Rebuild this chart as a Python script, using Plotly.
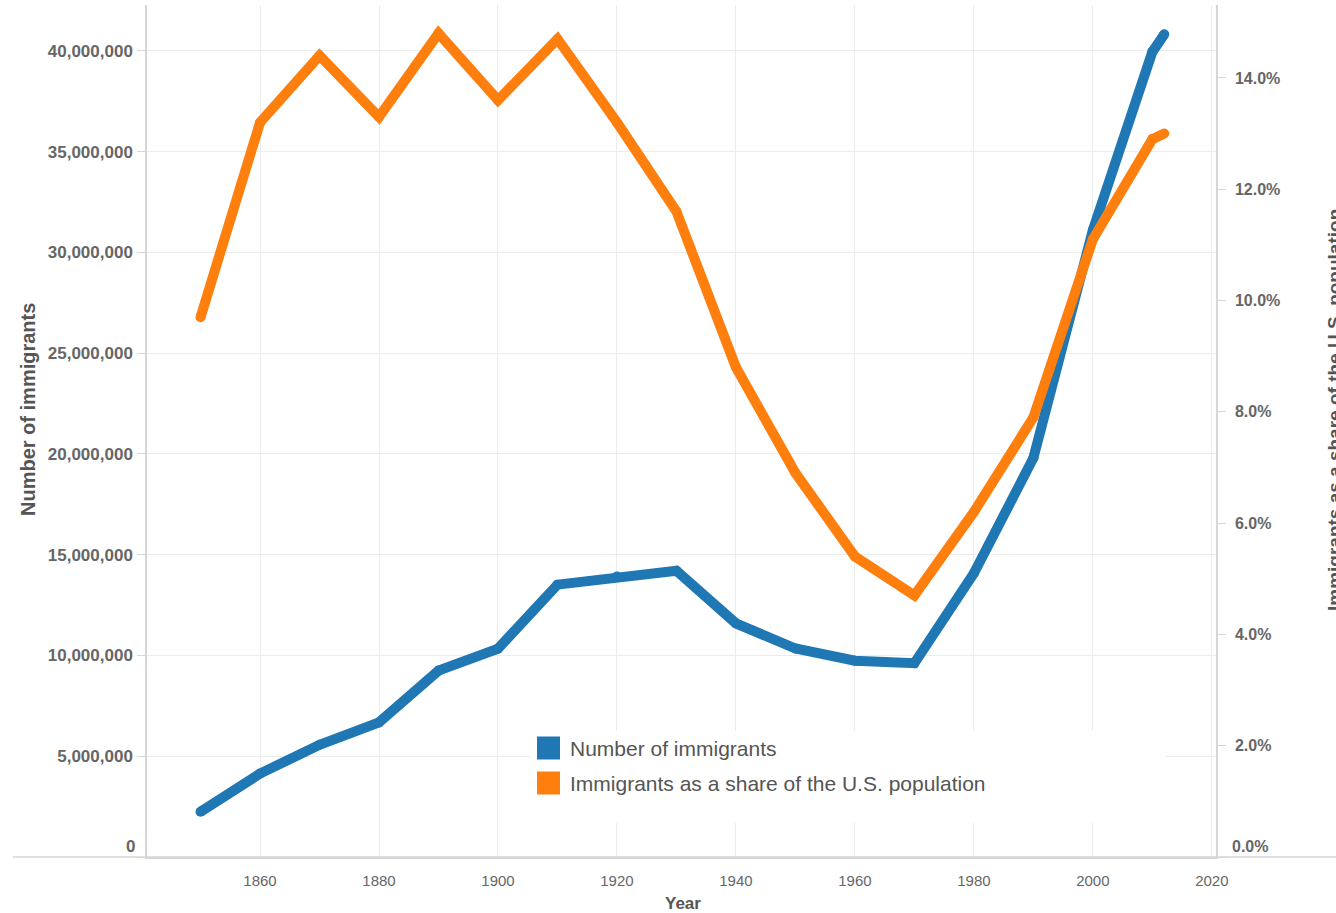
import plotly.graph_objects as go

years = [1850, 1860, 1870, 1880, 1890, 1900, 1910, 1920, 1930, 1940,
         1950, 1960, 1970, 1980, 1990, 2000, 2010, 2012]
immigrants = [2244602, 4138697, 5567229, 6679943, 9249547, 10341276, 13515886,
              13920692, 14204149, 11594896, 10347395, 9738091, 9619302,
              14079906, 19797316, 31107889, 39955854, 40824658]
share_pct = [9.7, 13.2, 14.4, 13.3, 14.8, 13.6, 14.7, 13.2, 11.6, 8.8,
             6.9, 5.4, 4.7, 6.2, 7.9, 11.1, 12.9, 13.0]
series_names = ["Number of immigrants", "Immigrants as a share of the U.S. population"]
series_colors = ["#1f77b4", "#ff7f0e"]
left_ticks = [0, 5000000, 10000000, 15000000, 20000000, 25000000, 30000000, 35000000, 40000000]
right_ticks = [0, 2, 4, 6, 8, 10, 12, 14]
x_ticks = [1860, 1880, 1900, 1920, 1940, 1960, 1980, 2000, 2020]

W, H = 1336, 913
L, R, T, B = 147, 120, 5, 56
PW, PH = W - L - R, H - T - B


def px(x):
    return (x - L) / PW


def py(y):
    return (H - B - y) / PH


FONT = "Liberation Sans, Arial, sans-serif"
NARROW = "Liberation Sans Narrow, Arial Narrow, Liberation Sans, Arial, sans-serif"
GRAY = "#666666"

left_text = ["" if v == 0 else f"{v:,d}" for v in left_ticks]
right_text = ["" if v == 0 else f"{v:.1f}%" for v in right_ticks]

fig = go.Figure()
fig.add_trace(go.Scatter(x=years, y=immigrants, mode="lines+markers", name=series_names[0],
                         line=dict(color=series_colors[0], width=10),
                         marker=dict(color=series_colors[0], size=10),
                         showlegend=False, yaxis="y"))
fig.add_trace(go.Scatter(x=years, y=share_pct, mode="lines+markers", name=series_names[1],
                         line=dict(color=series_colors[1], width=10),
                         marker=dict(color=series_colors[1], size=10),
                         showlegend=False, yaxis="y2"))

shapes = []
shapes.append(dict(type="line", xref="paper", yref="paper", x0=px(13), x1=px(1336), y0=0, y1=0,
                   line=dict(color="#d6d6d6", width=1.5), layer="above"))
shapes.append(dict(type="rect", xref="paper", yref="paper", x0=px(530), x1=px(1166),
                   y0=py(823), y1=py(731), fillcolor="white", line=dict(width=0), layer="above"))
annotations = []
for i, (name, col) in enumerate(zip(series_names, series_colors)):
    yc = 748 + 35 * i
    shapes.append(dict(type="rect", xref="paper", yref="paper", x0=px(537), x1=px(560),
                       y0=py(yc + 11.5), y1=py(yc - 11.5), fillcolor=col, line=dict(width=0),
                       layer="above"))
    annotations.append(dict(x=px(568), y=py(yc), xref="paper", yref="paper", text=name,
                            showarrow=False, xanchor="left", yanchor="middle",
                            font=dict(family=FONT, size=21, color="#555555")))

annotations.append(dict(x=px(137), y=py(846), xref="paper", yref="paper", text=f"{left_ticks[0]:,d}",
                        showarrow=False, xanchor="right", yanchor="middle",
                        font=dict(family=FONT, size=17, color=GRAY, weight="bold")))
annotations.append(dict(x=px(1230), y=py(846), xref="paper", yref="paper", text=f"{right_ticks[0]:.1f}%",
                        showarrow=False, xanchor="left", yanchor="middle",
                        font=dict(family=FONT, size=16, color=GRAY, weight="bold")))

annotations.append(dict(x=px(28), y=py(410), xref="paper", yref="paper", text="<b>Number of immigrants</b>",
                        textangle=-90, showarrow=False, xanchor="center", yanchor="middle",
                        font=dict(family=FONT, size=20, color="#555555")))
annotations.append(dict(x=px(1334), y=py(410), xref="paper", yref="paper",
                        text="<b>Immigrants as a share of the U.S. population</b>",
                        textangle=-90, showarrow=False, xanchor="center", yanchor="middle",
                        font=dict(family=FONT, size=19, color="#555555")))
annotations.append(dict(x=px(683), y=py(903), xref="paper", yref="paper", text="<b>Year</b>",
                        showarrow=False, xanchor="center", yanchor="middle",
                        font=dict(family=NARROW, size=17, color="#555555")))

fig.update_layout(
    width=W, height=H,
    margin=dict(l=L, r=R, t=T, b=B, pad=0),
    paper_bgcolor="white", plot_bgcolor="white",
    showlegend=False,
    shapes=shapes, annotations=annotations,
    xaxis=dict(range=[1841, 2020.7], tickvals=x_ticks, showgrid=True, gridcolor="#ececec",
               gridwidth=1, zeroline=False, showline=True, linecolor="#d6d6d6", linewidth=1.5,
               ticks="", tickfont=dict(family=NARROW, size=15, color=GRAY), ticklabelstandoff=9),
    yaxis=dict(range=[0, 42280000], tickvals=left_ticks, ticktext=left_text, showgrid=True,
               gridcolor="#ececec", gridwidth=1, zeroline=False, showline=True,
               linecolor="#d6d6d6", linewidth=1.5, ticks="outside", ticklen=8,
               tickcolor="#d6d6d6", tickfont=dict(family=FONT, size=17, color=GRAY, weight="bold"),
               ticklabelstandoff=1),
    yaxis2=dict(range=[0, 15.31], tickvals=right_ticks, ticktext=right_text,
                overlaying="y", side="right", showgrid=False, zeroline=False, showline=True,
                linecolor="#d6d6d6", linewidth=1.5, ticks="outside", ticklen=8,
                tickcolor="#d6d6d6", tickfont=dict(family=FONT, size=16, color=GRAY, weight="bold"),
                ticklabelstandoff=6),
)

fig.write_html("out.html", config={"displayModeBar": False},
               post_script="document.body.style.margin='0';document.body.style.overflow='hidden';")
